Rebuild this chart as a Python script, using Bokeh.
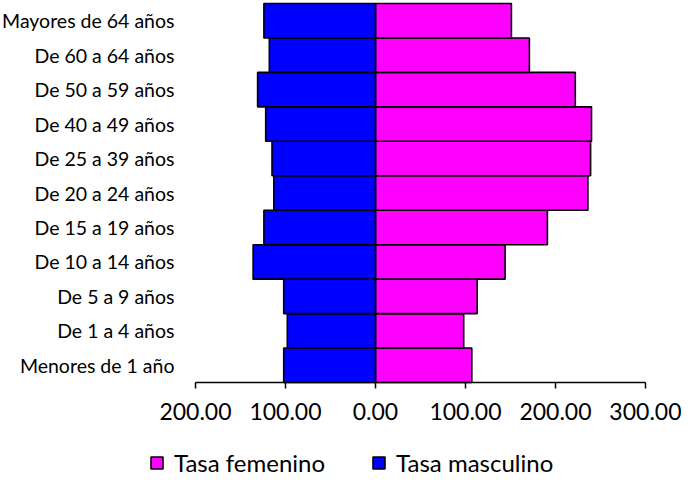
from bokeh.plotting import figure
from bokeh.models import (ColumnDataSource, Range1d, FixedTicker, LinearAxis,
                          Legend, LegendItem)
from bokeh.embed import file_html
from bokeh.resources import INLINE

# Data (bottom to top)
categories = ["Menores de 1 año", "De 1 a 4 años", "De 5 a 9 años", "De 10 a 14 años",
              "De 15 a 19 años", "De 20 a 24 años", "De 25 a 39 años", "De 40 a 49 años",
              "De 50 a 59 años", "De 60 a 64 años", "Mayores de 64 años"]
tasa_femenino = [107, 98, 113, 144, 191, 236, 239, 240, 222, 171, 151]
tasa_masculino = [102, 98, 102, 136, 124, 113, 115, 122, 131, 118, 124]
tick_values = [-200, -100, 0, 100, 200, 300]
tick_labels = ["200.00", "100.00", "0.00", "100.00", "200.00", "300.00"]
series_names = ["Tasa femenino", "Tasa masculino"]
series_colors = ["#FF00FF", "#0000FF"]

FONT = "Lato"
W, H = 681, 478
x_min, x_max = tick_values[0], tick_values[-1]
n = len(categories)
pos = list(range(n))

# layout (pixels): box of the bars inside the canvas
box_left, box_right, box_top, box_h = 195, 645, 3, 379
kx = (box_right - box_left) / (x_max - x_min)
ky = box_h / n
y_end = (n - 0.5) + box_top / ky
y_start = y_end - H / ky
x_start = x_min - box_left / kx
x_end = x_max + (W - box_right) / kx

src_f = ColumnDataSource(dict(y=pos, left=[0] * n, right=tasa_femenino))
src_m = ColumnDataSource(dict(y=pos, left=[-v for v in tasa_masculino], right=[0] * n))

p = figure(width=W, height=H, output_backend="svg", toolbar_location=None,
           x_range=Range1d(x_start, x_end), y_range=Range1d(y_start, y_end),
           x_axis_location=None, y_axis_location=None,
           min_border=0, min_border_left=0, min_border_right=0,
           min_border_top=0, min_border_bottom=0)
p.outline_line_color = None
p.grid.visible = False
p.background_fill_color = "white"
p.border_fill_color = "white"

rf = p.hbar(y="y", left="left", right="right", height=1.0, source=src_f,
            fill_color=series_colors[0], line_color="black", line_width=1.6)
rm = p.hbar(y="y", left="left", right="right", height=1.0, source=src_m,
            fill_color=series_colors[1], line_color="black", line_width=1.6)

# x axis, drawn at the bottom edge of the bars
xa = LinearAxis(fixed_location=-0.5, bounds=(x_min, x_max))
xa.ticker = FixedTicker(ticks=tick_values)
xa.major_label_overrides = {v: l for v, l in zip(tick_values, tick_labels)}
xa.axis_line_width = 1.5
xa.axis_line_color = "black"
xa.major_tick_line_width = 1.5
xa.major_tick_line_color = "black"
xa.major_tick_in = 0
xa.major_tick_out = 6
xa.minor_tick_line_color = None
xa.major_label_standoff = 14
xa.major_label_text_font = FONT
xa.major_label_text_font_size = "23px"
xa.major_label_text_color = "black"
p.add_layout(xa, "below")

# y axis (category labels), drawn at the left edge of the bar box
ya = LinearAxis(fixed_location=x_min, bounds=(-0.5, n - 0.5))
ya.ticker = FixedTicker(ticks=pos)
ya.major_label_overrides = {i: c for i, c in zip(pos, categories)}
ya.axis_line_color = None
ya.major_tick_line_color = None
ya.minor_tick_line_color = None
ya.major_tick_out = 0
ya.major_tick_in = 0
ya.major_label_standoff = 21
ya.major_label_text_font = FONT
ya.major_label_text_font_size = "19.5px"
ya.major_label_text_color = "black"
p.add_layout(ya, "left")

legend = Legend(items=[LegendItem(label=series_names[0], renderers=[rf]),
                       LegendItem(label=series_names[1], renderers=[rm])],
                orientation="horizontal", location=(149, 1),
                padding=0, margin=0, spacing=46, label_standoff=10,
                glyph_width=15, glyph_height=15,
                label_text_font=FONT, label_text_font_size="24px",
                label_text_color="black",
                border_line_color=None, background_fill_alpha=0)
p.add_layout(legend, "center")

open("out.html", "w").write(file_html(p, INLINE))
